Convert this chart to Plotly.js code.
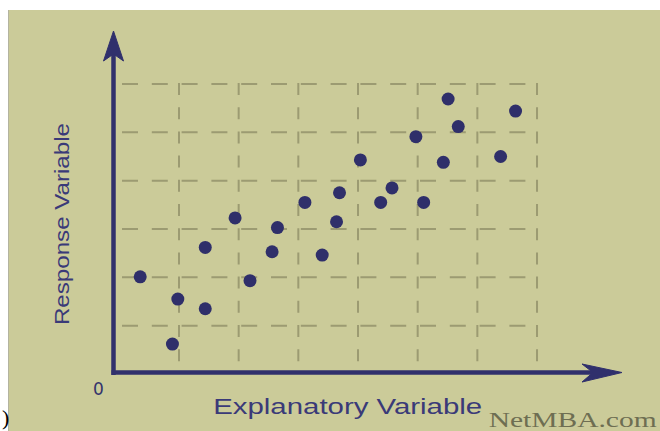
<!DOCTYPE html>
<html>
<head>
<meta charset="utf-8">
<script src="https://cdn.plot.ly/plotly-3.0.1.min.js"></script>
<style>html,body{margin:0;padding:0;background:#fff;}</style>
</head>
<body>
<div id="chart" style="width:660px;height:431px;"></div>
<script>
// Data (grid units)
const explanatory = [0.35,0.98,0.89,1.44,1.44,1.94,2.19,2.56,2.65,3.11,3.40,3.64,3.69,4.04,4.38,4.57,4.97,5.10,5.43,5.51,5.68,6.39,6.64];
const response    = [2.01,1.55,0.62,1.35,2.62,3.23,1.93,2.53,3.03,3.55,2.46,3.15,3.75,4.43,3.55,3.85,4.91,3.55,4.38,5.69,5.12,4.50,5.44];
const xGridVals = [1,2,3,4,5,6,7];
const yGridVals = [1,2,3,4,5,6];
const xTitle = "Explanatory Variable";
const yTitle = "Response Variable";
const originLabel = "0";
const watermark = "NetMBA.com";

// pixel <-> unit helpers (layout geometry)
const W = 660, H = 431, ML = 8, MT = 10;
const X0 = 119.33, XS = 59.67, Y0 = 374, YS = 48.33;
const X = px => (px - X0) / XS;
const Y = py => (Y0 - py) / YS;
const PX = px => (px - ML) / (W - ML);
const PY = py => (H - py) / (H - MT);

const navy = '#30306c';
const gridCol = '#9c9b72';

const shapes = [];
// horizontal dashed grid
yGridVals.forEach(v => shapes.push({type:'line', xref:'x', yref:'y', x0:X(122), x1:X(537), y0:v, y1:v,
  line:{color:gridCol, width:2, dash:'16px,13.8px'}, layer:'below'}));
// vertical dashed grid
xGridVals.forEach(v => shapes.push({type:'line', xref:'x', yref:'y', x0:v, x1:v, y0:Y(83), y1:Y(373),
  line:{color:gridCol, width:2, dash:'12px,12.2px'}, layer:'below'}));
// left border line
shapes.push({type:'line', xref:'paper', yref:'paper', x0:PX(8.5), x1:PX(8.5), y0:0, y1:1, line:{color:'#b4b4a0', width:1}});
// axes
shapes.push({type:'line', xref:'x', yref:'y', x0:X(113.5), x1:X(113.5), y0:Y(375), y1:Y(50), line:{color:navy, width:4.5}});
shapes.push({type:'line', xref:'x', yref:'y', x0:X(111.5), x1:X(600), y0:Y(372.5), y1:Y(372.5), line:{color:navy, width:4.5}});
// arrow heads
const pth = pts => 'M' + pts.map(p => X(p[0]) + ',' + Y(p[1])).join(' L') + ' Z';
shapes.push({type:'path', xref:'x', yref:'y', path: pth([[113.5,31],[123.5,61],[113.5,54],[103.5,61]]),
  fillcolor:navy, line:{color:navy, width:1}});
shapes.push({type:'path', xref:'x', yref:'y', path: pth([[622,372.5],[582,364],[593,372.5],[582,382]]),
  fillcolor:navy, line:{color:navy, width:1}});

// text stretch targets (the reference image is stretched)
const stretch = {};
stretch[xTitle] = 269; stretch[yTitle] = 202; stretch[watermark] = 168;

const ann = (px, py, text, font, extra) => Object.assign({xref:'paper', yref:'paper', x:PX(px), y:PY(py),
  xanchor:'center', yanchor:'middle', text:text, showarrow:false, font:font}, extra || {});

const annotations = [
  ann(347.5, 406, xTitle, {family:'Liberation Sans, Arial, sans-serif', size:22, color:'#3a3a78'}),
  ann(61, 224, yTitle, {family:'Liberation Sans, Arial, sans-serif', size:21, color:'#3a3a78'}, {textangle:-90}),
  ann(98, 389, originLabel, {family:'DejaVu Sans, sans-serif', size:17, color:'#34346c'}),
  ann(572, 419, watermark, {family:'Liberation Serif, Times New Roman, serif', size:22, color:'#6e6e52'}),
  ann(5, 417, ')', {family:'Liberation Serif, Times New Roman, serif', size:22, color:'#000000'}, {borderpad:0})
];

const trace = {
  x: explanatory, y: response, type:'scatter', mode:'markers',
  marker:{size:13, color:'#2f2f6a'}, hoverinfo:'skip', cliponaxis:false
};

const layout = {
  width:W, height:H, autosize:false,
  margin:{l:ML, r:0, t:MT, b:0, pad:0},
  paper_bgcolor:'#ffffff', plot_bgcolor:'#cbcb99',
  showlegend:false,
  xaxis:{range:[X(ML), X(W)], visible:false, fixedrange:true},
  yaxis:{range:[Y(H), Y(MT)], visible:false, fixedrange:true},
  shapes: shapes,
  annotations: annotations
};

Plotly.newPlot('chart', [trace], layout, {staticPlot:true, displayModeBar:false}).then(gd => {
  gd.querySelectorAll('.annotation-text').forEach(t => {
    const L = stretch[t.textContent];
    if (L) { t.setAttribute('textLength', L); t.setAttribute('lengthAdjust', 'spacingAndGlyphs'); }
  });
});
</script>
</body>
</html>
